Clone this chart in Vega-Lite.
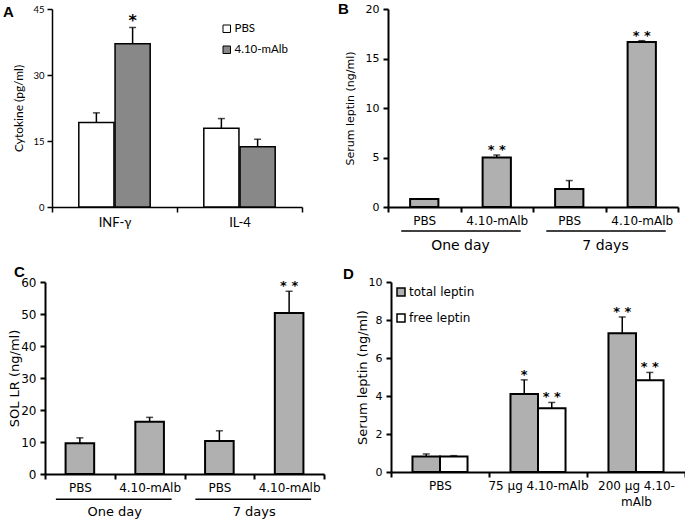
{
  "$schema": "https://vega.github.io/schema/vega-lite/v6.json",
  "background": "white",
  "padding": {"left": 3, "top": 2, "right": 0, "bottom": 0},
  "config": {
    "view": {"stroke": null},
    "axis": {"grid": false, "domainColor": "black", "tickColor": "black", "labelColor": "black", "titleColor": "black", "titleFontWeight": "normal", "labelFont": "DejaVu Sans", "titleFont": "DejaVu Sans", "domainWidth": 2, "tickWidth": 2, "tickSize": 5},
    "legend": {"labelColor": "black"}
  },
  "resolve": {"scale": {"color": "independent", "xOffset": "independent"}, "legend": {"color": "independent"}},
  "datasets": {
    "a": [
      {"cytokine": "INF-γ", "group": "PBS", "value": 19.2, "err": 21.4, "sig": ""},
      {"cytokine": "INF-γ", "group": "4.10-mAlb", "value": 37.1, "err": 40.8, "sig": "*"},
      {"cytokine": "IL-4", "group": "PBS", "value": 17.9, "err": 20.1, "sig": ""},
      {"cytokine": "IL-4", "group": "4.10-mAlb", "value": 13.7, "err": 15.4, "sig": ""}
    ],
    "b": [
      {"key": "One day|PBS", "value": 0.81, "err": 0.81, "sig": ""},
      {"key": "One day|4.10-mAlb", "value": 5.0, "err": 5.25, "sig": "* *"},
      {"key": "7 days|PBS", "value": 1.82, "err": 2.67, "sig": ""},
      {"key": "7 days|4.10-mAlb", "value": 16.66, "err": 16.8, "sig": "* *"}
    ],
    "groups": [
      {"key": "One day|PBS", "key2": "One day|4.10-mAlb", "label": "One day"},
      {"key": "7 days|PBS", "key2": "7 days|4.10-mAlb", "label": "7 days"}
    ],
    "c": [
      {"key": "One day|PBS", "value": 9.6, "err": 11.3, "sig": ""},
      {"key": "One day|4.10-mAlb", "value": 16.3, "err": 17.7, "sig": ""},
      {"key": "7 days|PBS", "value": 10.3, "err": 13.5, "sig": ""},
      {"key": "7 days|4.10-mAlb", "value": 50.3, "err": 57.1, "sig": "* *"}
    ],
    "d": [
      {"dose": "PBS", "type": "total leptin", "value": 0.82, "err": 0.95, "sig": ""},
      {"dose": "PBS", "type": "free leptin", "value": 0.82, "err": 0.86, "sig": ""},
      {"dose": "75 µg 4.10-mAlb", "type": "total leptin", "value": 4.1, "err": 4.85, "sig": "*"},
      {"dose": "75 µg 4.10-mAlb", "type": "free leptin", "value": 3.36, "err": 3.66, "sig": "* *"},
      {"dose": "200 µg 4.10-mAlb", "type": "total leptin", "value": 7.3, "err": 8.16, "sig": "* *"},
      {"dose": "200 µg 4.10-mAlb", "type": "free leptin", "value": 4.83, "err": 5.24, "sig": "* *"}
    ]
  },
  "spacing": 11,
  "center": true,
  "vconcat": [
    {
      "spacing": 35,
      "resolve": {"scale": {"color": "independent", "xOffset": "independent"}, "legend": {"color": "independent"}},
      "hconcat": [
        {
          "width": 250,
          "height": 198,
          "title": {"text": "A", "anchor": "start", "frame": "bounds", "font": "Liberation Sans", "fontSize": 15, "fontWeight": "bold", "color": "black", "offset": 0, "dy": 16, "dx": -9},
          "data": {"name": "a"},
          "encoding": {
            "x": {"field": "cytokine", "type": "nominal", "scale": {"domain": ["INF-γ", "IL-4"], "paddingInner": 0, "paddingOuter": 0},
              "axis": {"title": null, "labelAngle": 0, "tickBand": "extent", "labelFont": "Lato", "labelFontSize": 13, "labelPadding": 4, "domainWidth": 1.5, "tickWidth": 1.5}},
            "xOffset": {"field": "group", "type": "nominal", "scale": {"domain": ["PBS", "4.10-mAlb"], "paddingOuter": 0.74, "paddingInner": 0.03}},
            "y": {"field": "value", "type": "quantitative", "scale": {"domain": [0, 45], "nice": false},
              "axis": {"values": [0, 15, 30, 45], "title": "Cytokine (pg/ml)", "titleFont": "Lato", "titleFontSize": 12, "labelFont": "Lato", "labelFontSize": 9.5, "labelPadding": 3, "minExtent": 27, "maxExtent": 27, "titlePadding": 0, "domainWidth": 1.5, "tickWidth": 1.5}}
          },
          "layer": [
            {
              "mark": {"type": "bar", "stroke": "black", "strokeWidth": 1.5},
              "encoding": {
                "color": {"field": "group", "type": "nominal", "scale": {"domain": ["PBS", "4.10-mAlb"], "range": ["white", "#888888"]},
                  "legend": {"title": null, "orient": "top-right", "offset": 14, "symbolType": "square", "symbolSize": 56, "symbolStrokeColor": "black", "symbolStrokeWidth": 1, "labelFont": "Lato", "labelFontSize": 11.5, "rowPadding": 8, "labelOffset": 2}}
              }
            },
            {
              "mark": {"type": "rule", "color": "black", "strokeWidth": 1.5},
              "encoding": {"y2": {"field": "err"}}
            },
            {
              "mark": {"type": "tick", "color": "black", "thickness": 1.5, "size": 7},
              "encoding": {"y": {"field": "err", "type": "quantitative", "scale": {"domain": [0, 45], "nice": false},
                "axis": {"values": [0, 15, 30, 45], "title": "Cytokine (pg/ml)", "titleFont": "Lato", "titleFontSize": 12, "labelFont": "Lato", "labelFontSize": 9.5, "labelPadding": 3, "minExtent": 27, "maxExtent": 27, "titlePadding": 0, "domainWidth": 1.5, "tickWidth": 1.5}}}
            },
            {
              "mark": {"type": "text", "font": "DejaVu Sans", "fontWeight": "bold", "fontSize": 16, "baseline": "alphabetic", "dy": -1, "color": "black"},
              "encoding": {"y": {"field": "err", "type": "quantitative", "scale": {"domain": [0, 45], "nice": false},
                "axis": {"values": [0, 15, 30, 45], "title": "Cytokine (pg/ml)", "titleFont": "Lato", "titleFontSize": 12, "labelFont": "Lato", "labelFontSize": 9.5, "labelPadding": 3, "minExtent": 27, "maxExtent": 27, "titlePadding": 0, "domainWidth": 1.5, "tickWidth": 1.5}},
                "text": {"field": "sig"}}
            }
          ]
        },
        {
          "width": 290,
          "height": 198,
          "title": {"text": "B", "anchor": "start", "frame": "bounds", "font": "Liberation Sans", "fontSize": 15, "fontWeight": "bold", "color": "black", "offset": 0, "dy": 14, "dx": -6},
          "encoding": {
            "x": {"field": "key", "type": "nominal", "scale": {"domain": ["One day|PBS", "One day|4.10-mAlb", "7 days|PBS", "7 days|4.10-mAlb"], "paddingInner": 0, "paddingOuter": 0},
              "axis": {"title": null, "labelAngle": 0, "labelExpr": "split(datum.value, '|')[1]", "tickBand": "extent", "labelFontSize": 12, "labelPadding": 3}}
          },
          "layer": [
            {
              "data": {"name": "b"},
              "mark": {"type": "bar", "stroke": "black", "strokeWidth": 2, "color": "#b0b0b0", "width": {"band": 0.39}},
              "encoding": {"y": {"field": "value", "type": "quantitative", "scale": {"domain": [0, 20], "nice": false},
                "axis": {"values": [0, 5, 10, 15, 20], "title": "Serum leptin (ng/ml)", "titleFontSize": 11, "labelFontSize": 11, "labelPadding": 4, "minExtent": 33, "maxExtent": 33, "titlePadding": 0}}}
            },
            {
              "data": {"name": "b"},
              "mark": {"type": "rule", "color": "black", "strokeWidth": 1.5},
              "encoding": {"y": {"field": "value", "type": "quantitative", "scale": {"domain": [0, 20], "nice": false},
                "axis": {"values": [0, 5, 10, 15, 20], "title": "Serum leptin (ng/ml)", "titleFontSize": 11, "labelFontSize": 11, "labelPadding": 4, "minExtent": 33, "maxExtent": 33, "titlePadding": 0}},
                "y2": {"field": "err"}}
            },
            {
              "data": {"name": "b"},
              "mark": {"type": "tick", "color": "black", "thickness": 1.5, "size": 7},
              "encoding": {"y": {"field": "err", "type": "quantitative", "scale": {"domain": [0, 20], "nice": false},
                "axis": {"values": [0, 5, 10, 15, 20], "title": "Serum leptin (ng/ml)", "titleFontSize": 11, "labelFontSize": 11, "labelPadding": 4, "minExtent": 33, "maxExtent": 33, "titlePadding": 0}}}
            },
            {
              "data": {"name": "b"},
              "mark": {"type": "text", "font": "DejaVu Sans", "fontWeight": "bold", "fontSize": 13, "baseline": "alphabetic", "dy": -1, "color": "black"},
              "encoding": {"y": {"field": "err", "type": "quantitative", "scale": {"domain": [0, 20], "nice": false},
                "axis": {"values": [0, 5, 10, 15, 20], "title": "Serum leptin (ng/ml)", "titleFontSize": 11, "labelFontSize": 11, "labelPadding": 4, "minExtent": 33, "maxExtent": 33, "titlePadding": 0}},
                "text": {"field": "sig"}}
            },
            {
              "data": {"name": "groups"},
              "mark": {"type": "rule", "color": "black", "strokeWidth": 1.5, "xOffset": -23, "x2Offset": 24},
              "encoding": {
                "x2": {"field": "key2"},
                "y": {"datum": -2.42, "type": "quantitative", "scale": {"domain": [0, 20], "nice": false},
                  "axis": {"values": [0, 5, 10, 15, 20], "title": "Serum leptin (ng/ml)", "titleFontSize": 11, "labelFontSize": 11, "labelPadding": 4, "minExtent": 33, "maxExtent": 33, "titlePadding": 0}}}
            },
            {
              "data": {"name": "groups"},
              "mark": {"type": "text", "font": "DejaVu Sans", "fontSize": 14, "baseline": "middle", "color": "black"},
              "encoding": {
                "x": {"field": "key", "type": "nominal", "bandPosition": 1, "scale": {"domain": ["One day|PBS", "One day|4.10-mAlb", "7 days|PBS", "7 days|4.10-mAlb"], "paddingInner": 0, "paddingOuter": 0},
                  "axis": {"title": null, "labelAngle": 0, "labelExpr": "split(datum.value, '|')[1]", "tickBand": "extent", "labelFontSize": 12, "labelPadding": 3}},
                "y": {"datum": -3.94, "type": "quantitative", "scale": {"domain": [0, 20], "nice": false},
                  "axis": {"values": [0, 5, 10, 15, 20], "title": "Serum leptin (ng/ml)", "titleFontSize": 11, "labelFontSize": 11, "labelPadding": 4, "minExtent": 33, "maxExtent": 33, "titlePadding": 0}},
                "text": {"field": "label"}}
            }
          ]
        }
      ]
    },
    {
      "spacing": 18,
      "resolve": {"scale": {"color": "independent", "xOffset": "independent"}, "legend": {"color": "independent"}},
      "hconcat": [
        {
          "width": 279,
          "height": 192,
          "title": {"text": "C", "anchor": "start", "frame": "bounds", "font": "Liberation Sans", "fontSize": 15, "fontWeight": "bold", "color": "black", "offset": 0, "dy": 4, "dx": 6},
          "encoding": {
            "x": {"field": "key", "type": "nominal", "scale": {"domain": ["One day|PBS", "One day|4.10-mAlb", "7 days|PBS", "7 days|4.10-mAlb"], "paddingInner": 0, "paddingOuter": 0},
              "axis": {"title": null, "labelAngle": 0, "labelExpr": "split(datum.value, '|')[1]", "tickBand": "extent", "labelFontSize": 12, "labelPadding": 3}}
          },
          "layer": [
            {
              "data": {"name": "c"},
              "mark": {"type": "bar", "stroke": "black", "strokeWidth": 2, "color": "#b0b0b0", "width": {"band": 0.41}},
              "encoding": {"y": {"field": "value", "type": "quantitative", "scale": {"domain": [0, 60], "nice": false},
                "axis": {"values": [0, 10, 20, 30, 40, 50, 60], "title": "SOL LR (ng/ml)", "titleFontSize": 13, "labelFontSize": 12, "labelPadding": 4, "minExtent": 24, "maxExtent": 24, "titlePadding": 0}}}
            },
            {
              "data": {"name": "c"},
              "mark": {"type": "rule", "color": "black", "strokeWidth": 1.5},
              "encoding": {"y": {"field": "value", "type": "quantitative", "scale": {"domain": [0, 60], "nice": false},
                "axis": {"values": [0, 10, 20, 30, 40, 50, 60], "title": "SOL LR (ng/ml)", "titleFontSize": 13, "labelFontSize": 12, "labelPadding": 4, "minExtent": 24, "maxExtent": 24, "titlePadding": 0}},
                "y2": {"field": "err"}}
            },
            {
              "data": {"name": "c"},
              "mark": {"type": "tick", "color": "black", "thickness": 1.5, "size": 7},
              "encoding": {"y": {"field": "err", "type": "quantitative", "scale": {"domain": [0, 60], "nice": false},
                "axis": {"values": [0, 10, 20, 30, 40, 50, 60], "title": "SOL LR (ng/ml)", "titleFontSize": 13, "labelFontSize": 12, "labelPadding": 4, "minExtent": 24, "maxExtent": 24, "titlePadding": 0}}}
            },
            {
              "data": {"name": "c"},
              "mark": {"type": "text", "font": "DejaVu Sans", "fontWeight": "bold", "fontSize": 13, "baseline": "alphabetic", "dy": -1, "color": "black"},
              "encoding": {"y": {"field": "err", "type": "quantitative", "scale": {"domain": [0, 60], "nice": false},
                "axis": {"values": [0, 10, 20, 30, 40, 50, 60], "title": "SOL LR (ng/ml)", "titleFontSize": 13, "labelFontSize": 12, "labelPadding": 4, "minExtent": 24, "maxExtent": 24, "titlePadding": 0}},
                "text": {"field": "sig"}}
            },
            {
              "data": {"name": "groups"},
              "mark": {"type": "rule", "color": "black", "strokeWidth": 1.5, "xOffset": -24, "x2Offset": 22},
              "encoding": {
                "x2": {"field": "key2"},
                "y": {"datum": -7.9, "type": "quantitative", "scale": {"domain": [0, 60], "nice": false},
                  "axis": {"values": [0, 10, 20, 30, 40, 50, 60], "title": "SOL LR (ng/ml)", "titleFontSize": 13, "labelFontSize": 12, "labelPadding": 4, "minExtent": 24, "maxExtent": 24, "titlePadding": 0}}}
            },
            {
              "data": {"name": "groups"},
              "mark": {"type": "text", "font": "DejaVu Sans", "fontSize": 13, "baseline": "middle", "color": "black"},
              "encoding": {
                "x": {"field": "key", "type": "nominal", "bandPosition": 1, "scale": {"domain": ["One day|PBS", "One day|4.10-mAlb", "7 days|PBS", "7 days|4.10-mAlb"], "paddingInner": 0, "paddingOuter": 0},
                  "axis": {"title": null, "labelAngle": 0, "labelExpr": "split(datum.value, '|')[1]", "tickBand": "extent", "labelFontSize": 12, "labelPadding": 3}},
                "y": {"datum": -12.0, "type": "quantitative", "scale": {"domain": [0, 60], "nice": false},
                  "axis": {"values": [0, 10, 20, 30, 40, 50, 60], "title": "SOL LR (ng/ml)", "titleFontSize": 13, "labelFontSize": 12, "labelPadding": 4, "minExtent": 24, "maxExtent": 24, "titlePadding": 0}},
                "text": {"field": "label"}}
            }
          ]
        },
        {
          "width": 294,
          "height": 190,
          "title": {"text": "D", "anchor": "start", "frame": "bounds", "font": "Liberation Sans", "fontSize": 15, "fontWeight": "bold", "color": "black", "offset": 0, "dy": 6, "dx": -13},
          "data": {"name": "d"},
          "encoding": {
            "x": {"field": "dose", "type": "nominal", "scale": {"domain": ["PBS", "75 µg 4.10-mAlb", "200 µg 4.10-mAlb"], "paddingInner": 0, "paddingOuter": 0},
              "axis": {"title": null, "labelAngle": 0, "labelExpr": "datum.value == '200 µg 4.10-mAlb' ? ['200 µg 4.10-', 'mAlb'] : datum.value", "labelLimit": 200, "labelLineHeight": 16, "tickBand": "extent", "labelFontSize": 12, "labelPadding": 3}},
            "xOffset": {"field": "type", "type": "nominal", "scale": {"domain": ["total leptin", "free leptin"], "paddingOuter": 0.78, "paddingInner": 0}},
            "y": {"field": "value", "type": "quantitative", "scale": {"domain": [0, 10], "nice": false},
              "axis": {"values": [0, 2, 4, 6, 8, 10], "title": "Serum leptin (ng/ml)", "titleFontSize": 13, "labelFontSize": 11, "labelPadding": 4, "minExtent": 22, "maxExtent": 22, "titlePadding": 0}}
          },
          "layer": [
            {
              "mark": {"type": "bar", "stroke": "black", "strokeWidth": 2},
              "encoding": {
                "color": {"field": "type", "type": "nominal", "scale": {"domain": ["total leptin", "free leptin"], "range": ["#b0b0b0", "white"]},
                  "legend": {"title": null, "orient": "top-left", "offset": 4, "symbolType": "square", "symbolSize": 64, "symbolStrokeColor": "black", "symbolStrokeWidth": 1.5, "labelFont": "DejaVu Sans", "labelFontSize": 12, "rowPadding": 12, "labelOffset": 2}}
              }
            },
            {
              "mark": {"type": "rule", "color": "black", "strokeWidth": 1.5},
              "encoding": {"y2": {"field": "err"}}
            },
            {
              "mark": {"type": "tick", "color": "black", "thickness": 1.5, "size": 7},
              "encoding": {"y": {"field": "err", "type": "quantitative", "scale": {"domain": [0, 10], "nice": false},
                "axis": {"values": [0, 2, 4, 6, 8, 10], "title": "Serum leptin (ng/ml)", "titleFontSize": 13, "labelFontSize": 11, "labelPadding": 4, "minExtent": 22, "maxExtent": 22, "titlePadding": 0}}}
            },
            {
              "mark": {"type": "text", "font": "DejaVu Sans", "fontWeight": "bold", "fontSize": 13, "baseline": "alphabetic", "dy": -1, "color": "black"},
              "encoding": {"y": {"field": "err", "type": "quantitative", "scale": {"domain": [0, 10], "nice": false},
                "axis": {"values": [0, 2, 4, 6, 8, 10], "title": "Serum leptin (ng/ml)", "titleFontSize": 13, "labelFontSize": 11, "labelPadding": 4, "minExtent": 22, "maxExtent": 22, "titlePadding": 0}},
                "text": {"field": "sig"}}
            }
          ]
        }
      ]
    }
  ]
}
